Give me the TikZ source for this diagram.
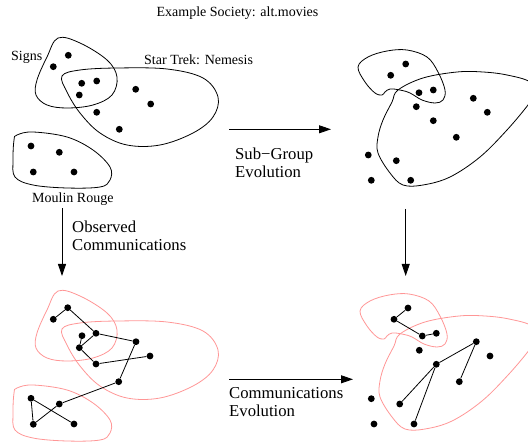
\documentclass[tikz,border=0pt]{standalone}
\usepackage{fontspec}
\setmainfont{Liberation Serif}
\usetikzlibrary{arrows.meta}

\definecolor{commred}{RGB}{255,150,150}

% group outlines, drawn once as members and once as communication groups
\newcommand{\signsblob}{plot[smooth cycle,tension=0.6] coordinates{(58,38) (80,43) (107,60) (117,77) (112,95) (93,105) (67,108) (47,105) (36,95) (37,80) (47,57)}}
\newcommand{\trekblob}{plot[smooth cycle,tension=0.6] coordinates{(62,76) (80,70) (117,68) (167,69) (203,78) (218,97) (213,117) (193,133) (160,145) (127,145) (100,133) (80,113) (67,92)}}
\newcommand{\moulinblob}{plot[smooth cycle,tension=0.6] coordinates{(17,135) (33,132) (67,137) (93,150) (110,167) (110,180) (100,187) (67,188) (33,185) (15,177) (13,160) (14,140)}}
\newcommand{\smallblob}{plot[smooth cycle,tension=0.6] coordinates{(358,67) (368,57) (387,51) (407,50) (427,57) (438,72) (445,90) (443,100) (435,103) (422,100) (410,93) (400,90) (390,89) (385,92) (382,95) (375,93) (365,82)}}
\newcommand{\bigblob}{plot[smooth cycle,tension=0.6] coordinates{(398,90) (423,78) (457,72) (483,72) (507,75) (530,82) (534,95) (528,105) (507,130) (480,157) (450,177) (423,185) (403,185) (390,173) (378,153) (378,137) (383,120) (392,102)}}

\begin{document}
\begin{tikzpicture}[x=1pt,y=-1pt,
	dot/.style={circle,fill=black,inner sep=0pt,minimum size=6.8pt},
	grp/.style={draw=black,line width=0.8pt},
	cgrp/.style={draw=commred,line width=0.8pt},
	comm/.style={draw=black,line width=0.8pt},
	flow/.style={draw=black,line width=0.9pt,-{Triangle[length=12pt,width=8pt]}},
	lbl/.style={font=\fontsize{14}{16}\selectfont,inner sep=0pt},
	note/.style={font=\fontsize{16.7}{18}\selectfont,inner sep=0pt,align=left,anchor=west}
	]
	\clip (0,0) rectangle (528,443);

	\node[lbl] (title) at (237.5,13) {Example Society: alt.movies};

	% members and their sub-groups
	\draw[grp] \signsblob;
	\draw[grp] \trekblob;
	\draw[grp] \moulinblob;
	\node[lbl,anchor=west] (signs) at (11,57) {Signs};
	\node[lbl,anchor=west] (trek) at (144,60) {Star Trek: Nemesis};
	\node[lbl,anchor=west] (moulin) at (32,199) {Moulin Rouge};

	\node[dot] (p1) at (68.3,55.3) {};
	\node[dot] (p2) at (53.3,66.7) {};
	\node[dot] (p3) at (81.7,83.3) {};
	\node[dot] (p4) at (96.7,81) {};
	\node[dot] (p5) at (79.3,95) {};
	\node[dot] (p6) at (135.7,89.3) {};
	\node[dot] (p7) at (150.7,104) {};
	\node[dot] (p8) at (96.7,112.3) {};
	\node[dot] (p9) at (119.3,129.3) {};
	\node[dot] (p10) at (31,146) {};
	\node[dot] (p11) at (59.3,152.3) {};
	\node[dot] (p12) at (33.3,172) {};
	\node[dot] (p13) at (74,172) {};

	% after sub-group evolution
	\draw[grp] \smallblob;
	\draw[grp] \bigblob;
	\node[dot] (q1) at (405.7,64) {};
	\node[dot] (q2) at (390.7,75.3) {};
	\node[dot] (q3) at (419,92.7) {};
	\node[dot] (q4) at (433.3,90) {};
	\node[dot] (q5) at (416.3,106.7) {};
	\node[dot] (q6) at (473.3,98.3) {};
	\node[dot] (q7) at (487.3,112.3) {};
	\node[dot] (q8) at (433.3,120.7) {};
	\node[dot] (q9) at (456.3,137.3) {};
	\node[dot] (q10) at (368.3,155) {};
	\node[dot] (q11) at (396.3,160.7) {};
	\node[dot] (q12) at (371.3,180.3) {};
	\node[dot] (q13) at (410.7,180.3) {};

	% observed communications
	\begin{scope}[shift={(0,253)}]
		\draw[cgrp] \signsblob;
		\draw[cgrp] \trekblob;
		\draw[cgrp] \moulinblob;
	\end{scope}
	\node[dot] (a1) at (67.7,307.7) {};
	\node[dot] (a2) at (53.3,319.3) {};
	\node[dot] (a3) at (96,333.3) {};
	\node[dot] (a4) at (82,335.7) {};
	\node[dot] (a5) at (79.3,347.7) {};
	\node[dot] (a6) at (136,341.7) {};
	\node[dot] (a7) at (150,356) {};
	\node[dot] (a8) at (96,364) {};
	\node[dot] (a9) at (118.7,381.7) {};
	\node[dot] (a10) at (31,398.3) {};
	\node[dot] (a11) at (59.3,404) {};
	\node[dot] (a12) at (33.3,424.3) {};
	\node[dot] (a13) at (74,424) {};
	\draw[comm] (a2) -- (a1) -- (a3) -- (a5) -- (a8) -- (a7);
	\draw[comm] (a4) -- (a5);
	\draw[comm] (a3) -- (a6) -- (a9) -- (a11) -- (a12) -- (a10) -- (a13);

	% communications after evolution
	\begin{scope}[shift={(2,244)}]
		\draw[cgrp] \smallblob;
		\draw[cgrp] \bigblob;
	\end{scope}
	\node[dot] (b1) at (408,308) {};
	\node[dot] (b2) at (394,319.3) {};
	\node[dot] (b3) at (422.3,336) {};
	\node[dot] (b4) at (436.3,333.3) {};
	\node[dot] (b5) at (419.3,350.3) {};
	\node[dot] (b6) at (476.3,341.7) {};
	\node[dot] (b7) at (490,356) {};
	\node[dot] (b8) at (436.3,364.3) {};
	\node[dot] (b9) at (459.3,381.7) {};
	\node[dot] (b10) at (371.3,398.7) {};
	\node[dot] (b11) at (399.7,404) {};
	\node[dot] (b12) at (374,424) {};
	\node[dot] (b13) at (414,424) {};
	\draw[comm] (b1) -- (b2) -- (b3) -- (b4);
	\draw[comm] (b9) -- (b6) -- (b8) -- (b11);
	\draw[comm] (b8) -- (b13);

	% arrows between the four views
	\coordinate (e1) at (229,129.3);
	\coordinate (e2) at (331,129.3);
	\coordinate (o1) at (62,208.5);
	\coordinate (o2) at (62,276);
	\coordinate (r1) at (405.7,209);
	\coordinate (r2) at (405.7,276);
	\coordinate (c1) at (229,379.3);
	\coordinate (c2) at (353,379.3);
	\draw[flow] (e1) -- (e2);
	\draw[flow] (o1) -- (o2);
	\draw[flow] (r1) -- (r2);
	\draw[flow] (c1) -- (c2);
	\node[note] (subgrp) at (235,162.5) {Sub−Group\\Evolution};
	\node[note] (observed) at (72,236) {Observed\\Communications};
	\node[note] (commevo) at (229,402.5) {Communications\\Evolution};
\end{tikzpicture}
\end{document}
